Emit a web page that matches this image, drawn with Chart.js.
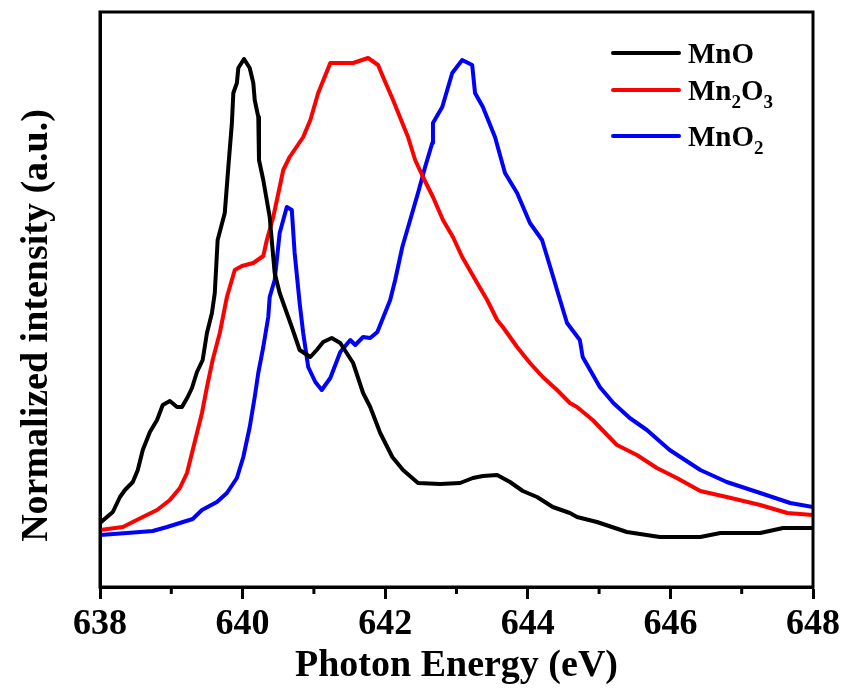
<!DOCTYPE html>
<html>
<head>
<meta charset="utf-8">
<script src="https://cdn.jsdelivr.net/npm/chart.js@4/dist/chart.umd.min.js"></script>
<style>
  body { margin: 0; background: #fff; }
  #wrap { width: 848px; height: 691px; }
</style>
</head>
<body>
<div id="wrap"><canvas id="xas" width="848" height="691"></canvas></div>
<script>
// Mn L3-edge spectra (intensity in arbitrary units)
const energyMnO = [638.00, 638.18, 638.28, 638.35, 638.46, 638.53, 638.60, 638.70, 638.80, 638.88, 638.98, 639.08, 639.15, 639.23, 639.29, 639.36, 639.44, 639.50, 639.57, 639.61, 639.65, 639.75, 639.80, 639.85, 639.87, 639.92, 639.94, 640.02, 640.10, 640.15, 640.17, 640.22, 640.23, 640.29, 640.38, 640.45, 640.52, 640.64, 640.69, 640.80, 640.95, 641.04, 641.13, 641.25, 641.37, 641.55, 641.69, 641.79, 641.93, 642.10, 642.25, 642.46, 642.77, 643.05, 643.23, 643.37, 643.57, 643.75, 643.93, 644.13, 644.35, 644.59, 644.69, 644.97, 645.39, 645.85, 646.42, 646.70, 647.26, 647.58, 648.00];
const intensityMnO = [0.64, 0.75, 0.90, 0.97, 1.05, 1.17, 1.37, 1.55, 1.67, 1.82, 1.86, 1.80, 1.80, 1.90, 1.99, 2.15, 2.27, 2.54, 2.74, 2.94, 3.47, 3.74, 4.20, 4.64, 4.94, 5.04, 5.19, 5.28, 5.19, 5.04, 4.87, 4.70, 4.27, 4.07, 3.70, 3.14, 2.94, 2.70, 2.60, 2.37, 2.30, 2.37, 2.45, 2.49, 2.44, 2.24, 1.94, 1.80, 1.54, 1.30, 1.17, 1.04, 1.03, 1.04, 1.09, 1.11, 1.12, 1.05, 0.96, 0.90, 0.80, 0.74, 0.70, 0.65, 0.55, 0.50, 0.50, 0.54, 0.54, 0.59, 0.59];

const energyMn2O3 = [638.00, 638.32, 638.60, 638.80, 638.98, 639.12, 639.22, 639.29, 639.36, 639.43, 639.50, 639.58, 639.68, 639.78, 639.89, 639.99, 640.15, 640.29, 640.34, 640.43, 640.52, 640.57, 640.66, 640.85, 640.95, 641.06, 641.23, 641.37, 641.55, 641.76, 641.90, 641.97, 642.11, 642.24, 642.32, 642.42, 642.53, 642.67, 642.81, 642.95, 643.08, 643.29, 643.43, 643.57, 643.65, 643.85, 644.03, 644.21, 644.41, 644.59, 644.69, 644.91, 645.25, 645.53, 645.81, 646.09, 646.42, 646.79, 647.26, 647.64, 648.00];
const intensityMn2O3 = [0.57, 0.60, 0.70, 0.77, 0.87, 0.99, 1.14, 1.34, 1.54, 1.74, 2.00, 2.27, 2.54, 2.90, 3.17, 3.21, 3.24, 3.31, 3.47, 3.70, 4.00, 4.17, 4.30, 4.50, 4.67, 4.94, 5.24, 5.24, 5.24, 5.29, 5.22, 5.10, 4.87, 4.64, 4.50, 4.27, 4.10, 3.90, 3.67, 3.50, 3.30, 3.04, 2.87, 2.67, 2.60, 2.40, 2.24, 2.10, 1.97, 1.84, 1.80, 1.67, 1.42, 1.32, 1.19, 1.09, 0.96, 0.90, 0.82, 0.74, 0.72];

const energyMnO2 = [638.00, 638.38, 638.74, 638.94, 639.30, 639.43, 639.64, 639.78, 639.92, 640.01, 640.10, 640.17, 640.22, 640.29, 640.36, 640.38, 640.45, 640.52, 640.62, 640.69, 640.73, 640.80, 640.85, 640.92, 641.02, 641.11, 641.23, 641.37, 641.51, 641.58, 641.69, 641.79, 641.89, 642.07, 642.14, 642.24, 642.35, 642.46, 642.56, 642.66, 642.67, 642.80, 642.94, 643.08, 643.22, 643.26, 643.37, 643.54, 643.68, 643.85, 644.03, 644.20, 644.34, 644.41, 644.55, 644.73, 644.77, 645.01, 645.20, 645.43, 645.67, 645.99, 646.42, 646.79, 647.26, 647.68, 648.00];
const intensityMnO2 = [0.52, 0.54, 0.56, 0.60, 0.68, 0.77, 0.85, 0.94, 1.09, 1.30, 1.60, 1.90, 2.14, 2.40, 2.70, 2.90, 3.07, 3.54, 3.80, 3.77, 3.34, 2.84, 2.54, 2.20, 2.05, 1.97, 2.09, 2.35, 2.47, 2.42, 2.50, 2.49, 2.55, 2.87, 3.07, 3.40, 3.67, 3.94, 4.20, 4.44, 4.64, 4.80, 5.14, 5.27, 5.22, 4.94, 4.80, 4.50, 4.14, 3.94, 3.64, 3.47, 3.14, 2.97, 2.64, 2.47, 2.30, 2.00, 1.84, 1.69, 1.57, 1.37, 1.17, 1.05, 0.94, 0.84, 0.80];

const majorTicks = [638, 640, 642, 644, 646, 648];
const minorTicks = [639, 641, 643, 645, 647];

const serif = "'Liberation Serif', 'Times New Roman', serif";

function toPoints(xs, ys) {
  return xs.map((x, i) => ({ x: x, y: ys[i] }));
}

// frame on all four sides, minor ticks and the y title (sits a bit below centre in the original)
const framePlugin = {
  id: 'frame',
  afterDraw(chart) {
    const { ctx, chartArea: a } = chart;
    const xs = chart.scales.x;
    ctx.save();
    ctx.strokeStyle = '#000';
    ctx.lineWidth = 3;
    ctx.strokeRect(a.left, a.top, a.right - a.left, a.bottom - a.top);
    minorTicks.forEach(v => {
      const px = xs.getPixelForValue(v);
      ctx.beginPath();
      ctx.moveTo(px, a.bottom);
      ctx.lineTo(px, a.bottom + 7);
      ctx.stroke();
    });
    ctx.translate(37, (a.top + a.bottom) / 2 + 26);
    ctx.rotate(-Math.PI / 2);
    ctx.fillStyle = '#000';
    ctx.font = 'bold 38px ' + serif;
    ctx.textAlign = 'center';
    ctx.textBaseline = 'middle';
    ctx.fillText('Normalized intensity (a.u.)', 0, 0);
    ctx.restore();
  }
};

// legend drawn by hand so the subscripts come out right
const legendPlugin = {
  id: 'subLegend',
  afterDraw(chart) {
    const ctx = chart.ctx;
    const rows = [
      { y: 53, parts: [['MnO', false]] },
      { y: 90, parts: [['Mn', false], ['2', true], ['O', false], ['3', true]] },
      { y: 136, parts: [['MnO', false], ['2', true]] }
    ];
    ctx.save();
    chart.data.datasets.forEach((ds, i) => {
      const r = rows[i];
      ctx.strokeStyle = ds.borderColor;
      ctx.lineWidth = 4;
      ctx.lineCap = 'round';
      ctx.beginPath();
      ctx.moveTo(613, r.y);
      ctx.lineTo(679, r.y);
      ctx.stroke();
      let x = 688;
      ctx.fillStyle = '#000';
      ctx.textBaseline = 'alphabetic';
      r.parts.forEach(([t, sub]) => {
        ctx.font = 'bold ' + (sub ? 19 : 29) + 'px ' + serif;
        ctx.fillText(t, x, r.y + 10 + (sub ? 8 : 0));
        x += ctx.measureText(t).width;
      });
    });
    ctx.restore();
  }
};

new Chart(document.getElementById('xas'), {
  type: 'line',
  data: {
    datasets: [
      { label: 'MnO', data: toPoints(energyMnO, intensityMnO), borderColor: '#000000' },
      { label: 'Mn2O3', data: toPoints(energyMn2O3, intensityMn2O3), borderColor: '#ff0000' },
      { label: 'MnO2', data: toPoints(energyMnO2, intensityMnO2), borderColor: '#0000ff' }
    ]
  },
  options: {
    responsive: false,
    animation: false,
    datasets: {
      line: { borderWidth: 4, pointRadius: 0, tension: 0, fill: false, borderJoinStyle: 'round', borderCapStyle: 'round' }
    },
    layout: { padding: { top: 12, right: 35, left: 0, bottom: 0 } },
    plugins: {
      legend: { display: false },
      tooltip: { enabled: false }
    },
    scales: {
      x: {
        type: 'linear',
        min: 638,
        max: 648,
        afterBuildTicks(scale) {
          scale.ticks = majorTicks.map(v => ({ value: v }));
        },
        afterFit(scale) { scale.height = 104; },
        grid: { drawOnChartArea: false, drawTicks: true, tickLength: 12, tickWidth: 3, tickColor: '#000' },
        border: { color: '#000', width: 3 },
        ticks: { color: '#000', padding: 4, font: { family: serif, size: 36, weight: 'bold' } },
        title: {
          display: true,
          text: 'Photon Energy (eV)',
          color: '#000',
          padding: { top: 0, bottom: 2 },
          font: { family: serif, size: 38, weight: 'bold' }
        }
      },
      y: {
        min: 0,
        max: 5.75,
        afterFit(scale) { scale.width = 100; },
        grid: { display: false },
        border: { color: '#000', width: 3 },
        ticks: { display: false },
        title: { display: false }
      }
    }
  },
  plugins: [framePlugin, legendPlugin]
});
</script>
</body>
</html>
